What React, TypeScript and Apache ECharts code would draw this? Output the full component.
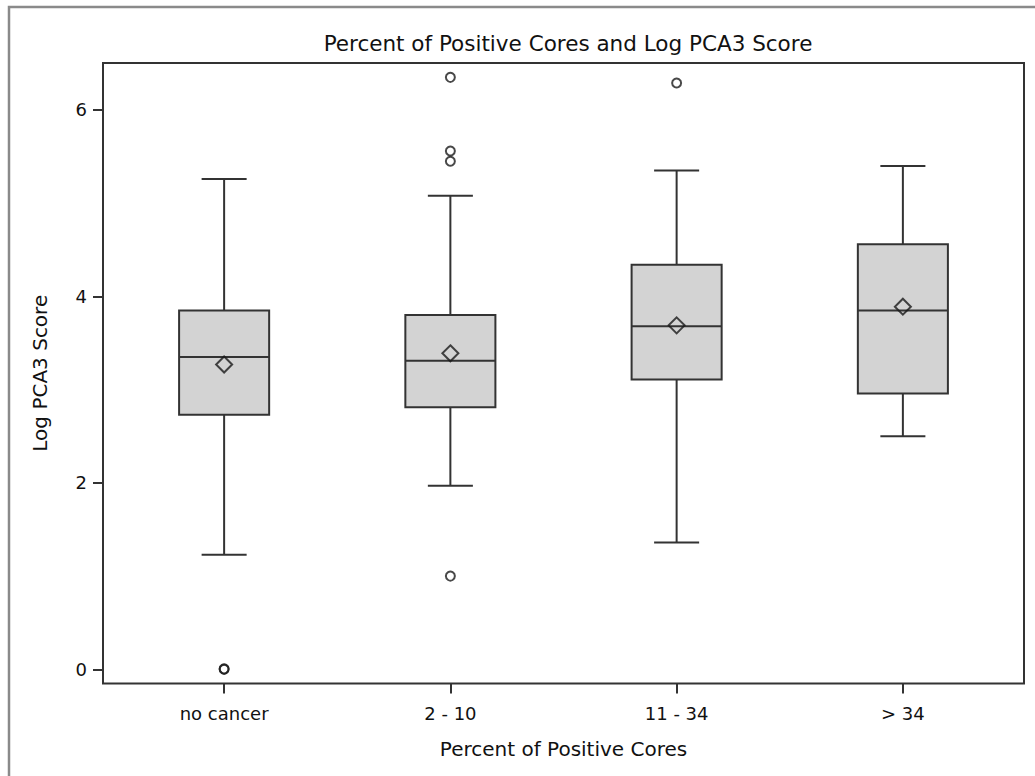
import React, { useEffect, useRef } from "react";
import * as echarts from "echarts";

const categories = ["no cancer", "2 - 10", "11 - 34", "> 34"];
const lowerWhisker = [1.23, 1.97, 1.36, 2.5];
const q1 = [2.73, 2.81, 3.11, 2.96];
const median = [3.35, 3.31, 3.68, 3.85];
const q3 = [3.85, 3.8, 4.34, 4.56];
const upperWhisker = [5.26, 5.08, 5.35, 5.4];
const means = [3.27, 3.39, 3.69, 3.89];
const outlierCategory = [0, 0, 1, 1, 1, 1, 2];
const outlierValue = [0, 0.005, 6.35, 5.56, 5.45, 1.0, 6.29];
const yTicks = [0, 2, 4, 6];
const yMin = -0.152;
const yMax = 6.504;

const FONT = "DejaVu Sans";
const INK = "#333333";
const TEXT = "#111111";

export default function App() {
  const ref = useRef<HTMLDivElement>(null);

  useEffect(() => {
    if (!ref.current) return;
    const chart = echarts.init(ref.current, undefined, { renderer: "svg" });

    const boxData = categories.map((_, i) => [
      i,
      lowerWhisker[i],
      q1[i],
      median[i],
      q3[i],
      upperWhisker[i],
    ]);
    const meanData = categories.map((_, i) => [i, means[i]]);
    const outlierData = outlierCategory.map((c, i) => [c, outlierValue[i]]);

    const renderBox = (params: any, api: any) => {
      const idx = api.value(0);
      const band = api.size([1, 0])[0];
      const half = band * 0.199;
      const capHalf = band * 0.0995;
      const pMin = api.coord([idx, api.value(1)]);
      const pQ1 = api.coord([idx, api.value(2)]);
      const pMed = api.coord([idx, api.value(3)]);
      const pQ3 = api.coord([idx, api.value(4)]);
      const pMax = api.coord([idx, api.value(5)]);
      const cx = pMed[0];
      const lineStyle = { stroke: INK, lineWidth: 2, fill: null };
      return {
        type: "group",
        children: [
          { type: "line", shape: { x1: cx, y1: pMax[1], x2: cx, y2: pQ3[1] }, style: lineStyle },
          { type: "line", shape: { x1: cx, y1: pQ1[1], x2: cx, y2: pMin[1] }, style: lineStyle },
          { type: "line", shape: { x1: cx - capHalf, y1: pMax[1], x2: cx + capHalf, y2: pMax[1] }, style: lineStyle },
          { type: "line", shape: { x1: cx - capHalf, y1: pMin[1], x2: cx + capHalf, y2: pMin[1] }, style: lineStyle },
          {
            type: "rect",
            shape: { x: cx - half, y: pQ3[1], width: half * 2, height: pQ1[1] - pQ3[1] },
            style: { fill: "#d3d3d3", stroke: INK, lineWidth: 2 },
          },
          { type: "line", shape: { x1: cx - half, y1: pMed[1], x2: cx + half, y2: pMed[1] }, style: lineStyle },
        ],
      };
    };

    chart.setOption({
      animation: false,
      backgroundColor: "#ffffff",
      title: {
        text: "Percent of Positive Cores and Log PCA3 Score",
        left: 563,
        textAlign: "center",
        top: 27,
        textStyle: { fontFamily: FONT, fontSize: 21.5, fontWeight: "normal", color: TEXT },
      },
      grid: { left: 111, right: 19, top: 63, bottom: 92.5 },
      xAxis: {
        type: "category",
        data: categories,
        boundaryGap: true,
        axisLine: { show: false, onZero: false },
        axisTick: { show: true, alignWithLabel: true, length: 10, lineStyle: { color: INK, width: 2 } },
        axisLabel: { margin: 21, fontFamily: FONT, fontSize: 18, color: TEXT },
        name: "Percent of Positive Cores",
        nameLocation: "middle",
        nameGap: 55,
        nameTextStyle: { fontFamily: FONT, fontSize: 20, color: TEXT },
        splitLine: { show: false },
      },
      yAxis: {
        type: "value",
        min: yMin,
        max: yMax,
        offset: 8,
        axisLine: { show: false },
        axisTick: { show: true, length: 10, customValues: yTicks, lineStyle: { color: INK, width: 2 } },
        axisLabel: { margin: 16, fontFamily: FONT, fontSize: 18, color: TEXT, customValues: yTicks },
        splitLine: { show: false },
        name: "Log PCA3 Score",
        nameLocation: "middle",
        nameGap: 53,
        nameTextStyle: { fontFamily: FONT, fontSize: 20, color: TEXT },
      },
      graphic: [
        {
          type: "rect",
          shape: { x: 9, y: 7, width: 1100, height: 900 },
          style: { fill: "none", stroke: "#8a8a8a", lineWidth: 2.5 },
          z: 0,
          silent: true,
        },
        {
          type: "rect",
          shape: { x: 103, y: 63, width: 921, height: 620.5 },
          style: { fill: "none", stroke: INK, lineWidth: 2 },
          z: 1,
          silent: true,
        },
      ],
      series: [
        {
          type: "custom",
          name: "box",
          data: boxData,
          encode: { x: 0, y: [1, 2, 3, 4, 5] },
          renderItem: renderBox,
          z: 2,
        },
        {
          type: "scatter",
          name: "mean",
          data: meanData,
          symbol: "diamond",
          symbolSize: 16,
          clip: false,
          itemStyle: { color: "rgba(0,0,0,0)", borderColor: "#1a1a1a", borderWidth: 2 },
          z: 3,
        },
        {
          type: "scatter",
          name: "outliers",
          data: outlierData,
          symbol: "circle",
          symbolSize: 9,
          clip: false,
          itemStyle: { color: "rgba(0,0,0,0)", borderColor: "#1a1a1a", borderWidth: 2 },
          z: 3,
        },
      ],
    });

    return () => chart.dispose();
  }, []);

  return (
    <div
      ref={ref}
      style={{ position: "absolute", left: 0, top: 0, width: 1035, height: 776, background: "#fff" }}
    />
  );
}
